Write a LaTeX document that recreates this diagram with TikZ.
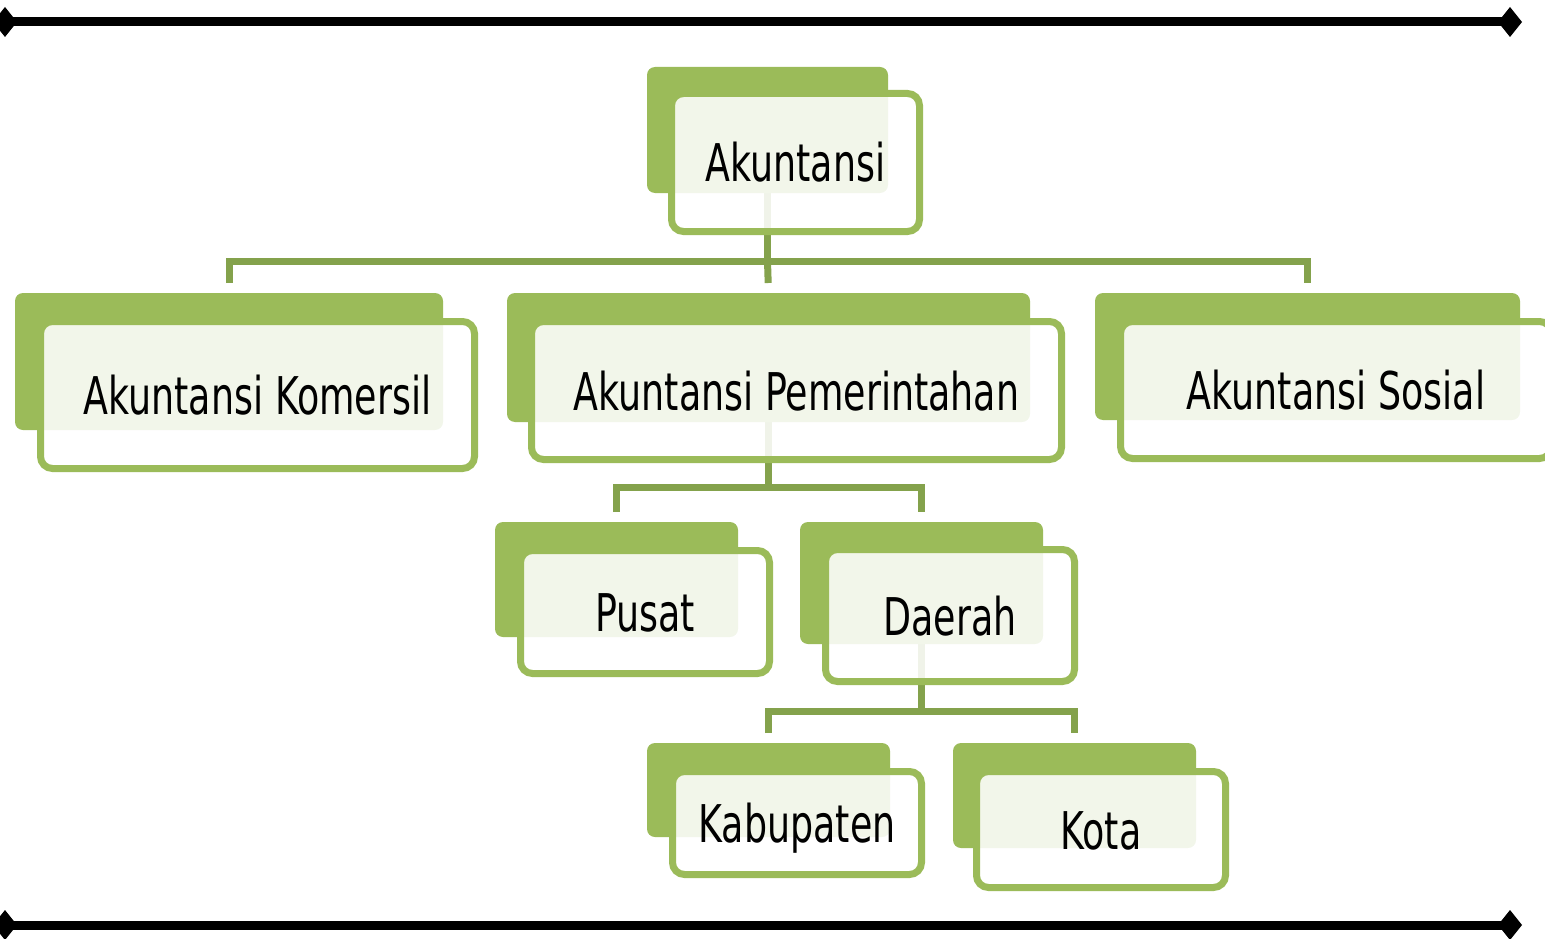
\documentclass[tikz,border=0pt]{standalone}
\usepackage{fontspec}
\setmainfont{DejaVu Sans}[FakeStretch=0.7]
\usetikzlibrary{arrows.meta}
\definecolor{ogreen}{HTML}{9BBB59}
\definecolor{cgreen}{HTML}{84A24C}
\pgfdeclarelayer{bg}
\pgfdeclarelayer{mid}
\pgfsetlayers{bg,mid,main}
\begin{document}
\begin{tikzpicture}[x=1pt,y=-1pt,
  backbox/.style={fill=ogreen, rounded corners=8pt, inner sep=0pt, outer sep=0pt},
  frontbox/.style={draw=ogreen, line width=7pt, fill=white, fill opacity=0.88, text opacity=1,
    rounded corners=12pt, inner sep=0pt, outer sep=0pt, text height=39pt, text depth=0pt,
    font=\fontsize{52}{60}\selectfont},
  conn/.style={draw=cgreen, line width=7pt},
  rule/.style={line width=9pt, {Diamond[length=24pt,width=30pt]}-{Diamond[length=24pt,width=30pt]}}]
\useasboundingbox (0,0) rectangle (1545,939);

% front boxes (main layer)
\node[frontbox, minimum width=248pt, minimum height=138pt] (akf)  at (795.5,162.5) {Akuntansi};
\node[frontbox, minimum width=434pt, minimum height=147pt] (komf) at (257.5,395) {Akuntansi Komersil};
\node[frontbox, minimum width=530pt, minimum height=138pt] (pemf) at (796.5,390.5) {Akuntansi Pemerintahan};
\node[frontbox, minimum width=431pt, minimum height=137pt] (sosf) at (1336,390) {Akuntansi Sosial};
\node[frontbox, minimum width=249pt, minimum height=123pt] (pusf) at (645,612) {Pusat};
\node[frontbox, minimum width=249pt, minimum height=132pt] (daef) at (950,615.5) {Daerah};
\node[frontbox, minimum width=249pt, minimum height=103pt] (kabf) at (797,823) {Kabupaten};
\node[frontbox, minimum width=249pt, minimum height=116pt] (kotf) at (1101,829.5) {Kota};

% back boxes
\begin{pgfonlayer}{mid}
\node[backbox, minimum width=241pt, minimum height=126pt] (akb)  at (767.5,130) {};
\node[backbox, minimum width=428pt, minimum height=137pt] (komb) at (229,361.5) {};
\node[backbox, minimum width=523pt, minimum height=129pt] (pemb) at (768.5,357.5) {};
\node[backbox, minimum width=425pt, minimum height=127pt] (sosb) at (1307.5,356.5) {};
\node[backbox, minimum width=243pt, minimum height=115pt] (pusb) at (616.5,579.5) {};
\node[backbox, minimum width=243pt, minimum height=122pt] (daeb) at (921.5,583) {};
\node[backbox, minimum width=243pt, minimum height=94pt]  (kabb) at (768.5,790) {};
\node[backbox, minimum width=243pt, minimum height=105pt] (kotb) at (1074.5,795.5) {};
\end{pgfonlayer}

% connectors
\coordinate (j1) at (767.5,261);
\coordinate (j2) at (768.5,487);
\coordinate (j3) at (921.5,711);
\begin{pgfonlayer}{bg}
\draw[conn] (akb.center) -- (j1);
\draw[conn, shorten <=10pt, shorten >=10pt] (komb.north) -- (komb.north |- j1) -- (sosb.north |- j1) -- (sosb.north);
\draw[conn, shorten >=10pt] (j1) -- (pemb.north);
\draw[conn] (pemb.center) -- (j2);
\draw[conn, shorten <=10pt, shorten >=10pt] (pusb.north) -- (pusb.north |- j2) -- (daeb.north |- j2) -- (daeb.north);
\draw[conn] (daeb.center) -- (j3);
\draw[conn, shorten <=10pt, shorten >=10pt] (kabb.north) -- (kabb.north |- j3) -- (kotb.north |- j3) -- (kotb.north);
\end{pgfonlayer}

% rules
\coordinate (tl) at (-7,22);
\coordinate (tr) at (1522,22);
\coordinate (bl) at (-7,925);
\coordinate (br) at (1522,925);
\draw[rule] (tl) -- (tr);
\draw[rule] (bl) -- (br);
\end{tikzpicture}
\end{document}
